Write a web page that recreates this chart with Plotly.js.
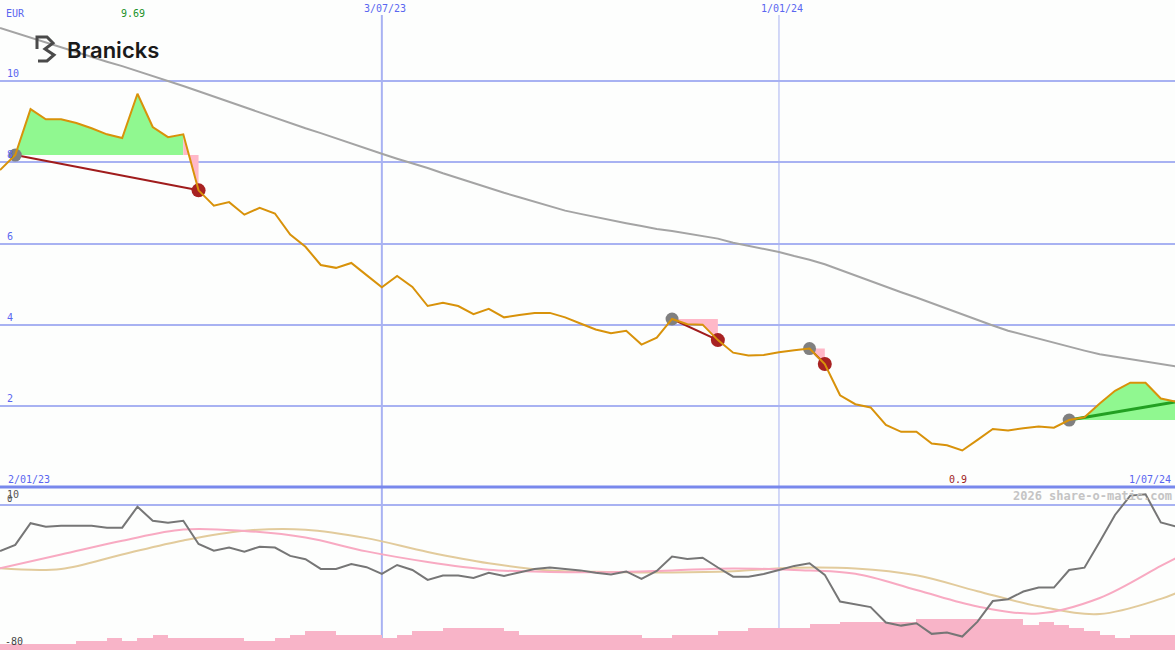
<!DOCTYPE html>
<html>
<head>
<meta charset="utf-8">
<script src="https://cdn.plot.ly/plotly-3.0.1.min.js"></script>
<style>
html,body{margin:0;padding:0;background:#fdfefd;}
#chart{width:1175px;height:650px;}
</style>
</head>
<body>
<div id="chart"></div>
<script>
// ---------- DATA ----------
const weeks = [
 '2023-01-09','2023-01-16','2023-01-23','2023-01-30','2023-02-06','2023-02-13','2023-02-20','2023-02-27',
 '2023-03-06','2023-03-13','2023-03-20','2023-03-27','2023-04-03','2023-04-10','2023-04-17','2023-04-24',
 '2023-05-01','2023-05-08','2023-05-15','2023-05-22','2023-05-29','2023-06-05','2023-06-12','2023-06-19',
 '2023-06-26','2023-07-03','2023-07-10','2023-07-17','2023-07-24','2023-07-31','2023-08-07','2023-08-14',
 '2023-08-21','2023-08-28','2023-09-04','2023-09-11','2023-09-18','2023-09-25','2023-10-02','2023-10-09',
 '2023-10-16','2023-10-23','2023-10-30','2023-11-06','2023-11-13','2023-11-20','2023-11-27','2023-12-04',
 '2023-12-11','2023-12-18','2023-12-25','2024-01-01','2024-01-08','2024-01-15','2024-01-22','2024-01-29',
 '2024-02-05','2024-02-12','2024-02-19','2024-02-26','2024-03-04','2024-03-11','2024-03-18','2024-03-25',
 '2024-04-01','2024-04-08','2024-04-15','2024-04-22','2024-04-29','2024-05-06','2024-05-13','2024-05-20',
 '2024-05-27','2024-06-03','2024-06-10','2024-06-17','2024-06-24','2024-07-01'
];

const price = [
 7.81,8.18,9.31,9.06,9.06,8.97,8.84,8.69,8.60,9.69,8.87,8.62,8.69,7.31,6.93,7.02,
 6.71,6.88,6.74,6.22,5.92,5.47,5.40,5.52,5.22,4.92,5.20,4.93,4.46,4.54,4.46,4.26,
 4.39,4.18,4.24,4.29,4.29,4.18,4.03,3.88,3.79,3.85,3.51,3.68,4.14,4.01,4.00,3.62,
 3.31,3.24,3.25,3.32,3.37,3.41,3.03,2.26,2.04,1.96,1.53,1.36,1.36,1.07,1.03,0.90,
 1.16,1.43,1.39,1.45,1.49,1.46,1.65,1.72,2.06,2.37,2.57,2.57,2.18,2.10
];

const movingAvg = [
 11.31,11.19,11.07,10.95,10.84,10.72,10.60,10.48,10.37,10.25,10.13,10.01,9.88,9.75,9.62,9.49,
 9.36,9.22,9.09,8.97,8.84,8.72,8.59,8.46,8.33,8.21,8.09,7.98,7.86,7.73,7.61,7.48,
 7.36,7.25,7.14,7.03,6.91,6.81,6.73,6.65,6.58,6.50,6.43,6.36,6.31,6.25,6.19,6.12,
 6.02,5.94,5.86,5.79,5.69,5.60,5.49,5.35,5.21,5.07,4.94,4.80,4.67,4.53,4.39,4.25,
 4.12,3.98,3.85,3.75,3.65,3.56,3.46,3.36,3.27,3.21,3.15,3.09,3.03,2.97
];

const oscillator = [
 -25.4,-22.0,-9.9,-11.8,-11.3,-11.3,-11.3,-12.4,-12.4,-0.7,-8.5,-9.6,-8.5,-21.5,-25.2,-23.5,
 -25.8,-23.0,-23.5,-28.1,-30.0,-35.4,-35.4,-32.6,-34.4,-38.2,-33.2,-36.0,-41.5,-39.1,-39.0,-40.4,
 -37.5,-39.3,-37.3,-35.4,-34.6,-35.4,-36.2,-37.5,-38.5,-36.8,-41.0,-36.5,-28.5,-29.8,-29.1,-34.6,
 -39.7,-39.7,-38.2,-36.0,-33.7,-32.2,-38.7,-53.6,-55.2,-56.7,-65.3,-67.0,-65.7,-71.6,-70.9,-73.1,
 -64.8,-53.3,-52.3,-48.0,-45.8,-45.8,-36.0,-34.7,-20.2,-5.3,5.5,6.2,-9.5,-11.7
];

const volume = [
 3.3,3.3,3.3,3.3,3.3,5.0,5.0,6.9,5.0,6.9,8.4,6.9,6.9,6.9,6.9,6.9,
 5.0,5.0,6.9,8.4,10.6,10.6,8.4,8.4,8.4,6.9,8.4,10.6,10.6,12.4,12.4,12.4,
 12.4,10.6,8.4,8.4,8.4,8.4,8.4,8.4,8.4,8.4,6.9,6.9,8.4,8.4,8.4,10.6,
 10.6,12.4,12.4,12.4,12.4,14.3,14.3,15.8,15.8,15.8,15.8,15.8,17.3,17.3,17.3,17.3,
 17.3,17.3,17.3,13.9,15.8,13.9,12.4,10.6,8.4,6.9,8.4,8.4,8.4,8.4
];

const smoothDates = ['2023-01-09','2023-02-06','2023-03-06','2023-04-03','2023-05-01','2023-05-29','2023-06-26',
 '2023-07-24','2023-08-21','2023-09-18','2023-10-16','2023-11-13','2023-12-11','2024-01-08','2024-02-05',
 '2024-03-04','2024-04-01','2024-04-29','2024-05-27','2024-06-24','2024-07-01'];
const pinkSignal = [-35.0,-27.4,-19.7,-13.4,-14.2,-17.9,-25.6,-31.5,-35.8,-37.1,-37.2,-36.2,-35.1,-36.0,-38.1,-47.1,-56.3,-60.2,-51.6,-33.7,-29.3];
const tanSignal  = [-35.0,-35.4,-27.3,-19.5,-14.1,-13.5,-18.2,-25.9,-32.2,-36.2,-37.1,-37.4,-36.7,-34.7,-35.1,-38.9,-47.8,-56.2,-60.5,-52.1,-48.9];

// trades: entry index, exit index (last one still open)
const tradeEntry = [1, 44, 53, 70];
const tradeExit  = [13, 47, 54, 77];
const tradeOpen  = [false, false, false, true];

const gridLevels = [2, 4, 6, 8, 10];
const markerDates = ['2023-07-03', '2024-01-01'];
const markerLabels = ['3/07/23', '1/01/24'];

// ---------- STYLE ----------
const W = 1175, H = 650;
const split = 163 / H;
const BG = '#fdfefd';
const GRID = '#a8b2f2';
const BLUE_TXT = '#5a66f0';
const MONO = 'DejaVu Sans Mono, Liberation Mono, monospace';
const GREEN_FILL = '#90f890';
const PINK_FILL = '#ffb8c8';

const traces = [];

// lower panel: volume bars
const DAY = 86400000;
traces.push({
  type: 'bar', xaxis: 'x', yaxis: 'y2',
  x: weeks.map(d => new Date(new Date(d + 'T00:00:00Z').getTime() + 3.5 * DAY).toISOString()),
  y: volume, base: -80.6, width: 7 * DAY,
  marker: {color: '#f8b4c8', line: {width: 0}}, hoverinfo: 'skip'
});
traces.push({type: 'scatter', mode: 'lines', xaxis: 'x', yaxis: 'y2', x: smoothDates, y: tanSignal,
  line: {color: '#e2cb9c', width: 2, shape: 'spline', smoothing: 1}, hoverinfo: 'skip'});
traces.push({type: 'scatter', mode: 'lines', xaxis: 'x', yaxis: 'y2', x: smoothDates, y: pinkSignal,
  line: {color: '#f8aac2', width: 2, shape: 'spline', smoothing: 1}, hoverinfo: 'skip'});
traces.push({type: 'scatter', mode: 'lines', xaxis: 'x', yaxis: 'y2', x: weeks, y: oscillator,
  line: {color: '#767676', width: 2}, hoverinfo: 'skip'});

// main panel: trade fills
tradeEntry.forEach((e, k) => {
  const level = price[e];
  const x = tradeExit[k];
  let i = e;
  while (i < x) {
    const up = price[i + 1] >= level;
    let j = i;
    while (j < x && (price[j + 1] >= level) === up) j++;
    const xs = [], ys = [];
    for (let m = i; m <= j; m++) { xs.push(weeks[m]); ys.push(price[m]); }
    xs.push(weeks[j], weeks[i]); ys.push(level, level);
    traces.push({type: 'scatter', mode: 'none', x: xs, y: ys, fill: 'toself',
      fillcolor: up ? GREEN_FILL : PINK_FILL, hoverinfo: 'skip'});
    i = j;
  }
});

// moving average
traces.push({type: 'scatter', mode: 'lines', x: weeks, y: movingAvg,
  line: {color: '#a4a4a4', width: 2}, hoverinfo: 'skip'});

// trade lines
tradeEntry.forEach((e, k) => {
  const x = tradeExit[k];
  traces.push({type: 'scatter', mode: 'lines', x: [weeks[e], weeks[x]], y: [price[e], price[x]],
    line: {color: tradeOpen[k] ? '#22a022' : '#a01c1c', width: tradeOpen[k] ? 3 : 2}, hoverinfo: 'skip'});
});
// entry / exit markers
traces.push({type: 'scatter', mode: 'markers', x: tradeEntry.map(i => weeks[i]), y: tradeEntry.map(i => price[i]),
  marker: {color: '#808080', size: 13, line: {width: 0}}, hoverinfo: 'skip'});
const closed = tradeExit.filter((v, k) => !tradeOpen[k]);
traces.push({type: 'scatter', mode: 'markers', x: closed.map(i => weeks[i]), y: closed.map(i => price[i]),
  marker: {color: '#a82222', size: 14, line: {width: 0}}, hoverinfo: 'skip'});

// price line
traces.push({type: 'scatter', mode: 'lines', x: weeks, y: price,
  line: {color: '#d8920a', width: 2}, hoverinfo: 'skip'});

// ---------- ANNOTATIONS ----------
const ann = [];
const txt = (o) => Object.assign({showarrow: false, borderpad: 0}, o);
ann.push(txt({text: 'EUR', xref: 'paper', yref: 'paper', x: 5 / W, y: 1 - 14 / H, xanchor: 'left', yanchor: 'middle',
  font: {family: MONO, size: 10, color: BLUE_TXT}}));
const maxV = Math.max(...price), maxI = price.indexOf(maxV);
ann.push(txt({text: maxV.toFixed(2), xref: 'x', yref: 'paper', x: weeks[maxI], y: 1 - 14 / H, xanchor: 'center', yanchor: 'middle',
  xshift: -4, font: {family: MONO, size: 10, color: '#22922a'}}));
const minV = Math.min(...price), minI = price.indexOf(minV);
ann.push(txt({text: String(minV), xref: 'x', yref: 'paper', x: weeks[minI], y: 1 - 479 / H, xanchor: 'center', yanchor: 'middle',
  xshift: -4, font: {family: MONO, size: 10, color: '#a01c1c'}}));
gridLevels.forEach(v => ann.push(txt({text: String(v), xref: 'paper', yref: 'y', x: 6 / W, y: v, xanchor: 'left', yanchor: 'bottom',
  yshift: 1, font: {family: MONO, size: 10, color: BLUE_TXT}})));
markerDates.forEach((d, k) => ann.push(txt({text: markerLabels[k], xref: 'x', yref: 'paper', x: d, y: 1 - 8 / H,
  xanchor: 'center', yanchor: 'middle', xshift: 3, font: {family: MONO, size: 10, color: BLUE_TXT}})));
ann.push(txt({text: '2/01/23', xref: 'paper', yref: 'paper', x: 7 / W, y: 1 - 479 / H, xanchor: 'left', yanchor: 'middle',
  font: {family: MONO, size: 10, color: BLUE_TXT}}));
ann.push(txt({text: '1/07/24', xref: 'paper', yref: 'paper', x: 1172 / W, y: 1 - 479 / H, xanchor: 'right', yanchor: 'middle',
  font: {family: MONO, size: 10, color: BLUE_TXT}}));
ann.push(txt({text: '10', xref: 'paper', yref: 'paper', x: 6 / W, y: 1 - 494 / H, xanchor: 'left', yanchor: 'middle',
  font: {family: MONO, size: 10, color: '#555555'}}));
ann.push(txt({text: '0', xref: 'paper', yref: 'y2', x: 6 / W, y: 0, xanchor: 'left', yanchor: 'bottom', yshift: 0,
  font: {family: MONO, size: 9, color: '#555555'}}));
ann.push(txt({text: '-80', xref: 'paper', yref: 'y2', x: 4 / W, y: -80, xanchor: 'left', yanchor: 'bottom', yshift: 1,
  font: {family: MONO, size: 10, color: '#444444'}}));
ann.push(txt({text: '<b>2026 share-o-matic.com</b>', xref: 'paper', yref: 'paper', x: 1173 / W, y: 1 - 496 / H,
  xanchor: 'right', yanchor: 'middle', font: {family: MONO, size: 12, color: '#c4c4c4'}}));
ann.push(txt({text: 'Branicks', xref: 'paper', yref: 'paper', x: 66 / W, y: 1 - 50 / H, xanchor: 'left', yanchor: 'middle',
  font: {family: 'Inter, Roboto, sans-serif', size: 22, color: '#1a1a1a', weight: 600}}));

// ---------- SHAPES ----------
const px = x => x / W, py = y => 1 - y / H;
const shapes = [];
markerDates.forEach((d, k) => shapes.push({type: 'line', xref: 'x', yref: 'paper', x0: d, x1: d, y0: 0, y1: py(15),
  line: {color: GRID, width: k === 0 ? 2 : 1}, layer: 'below'}));
shapes.push({type: 'line', xref: 'paper', yref: 'paper', x0: 0, x1: 1, y0: split, y1: split,
  line: {color: '#7888ec', width: 3}, layer: 'below'});
const logo = [[37,49],[37,37],[47,37],[53,43],[45,49],[54,55],[47,61],[38,61]];
shapes.push({type: 'path', xref: 'paper', yref: 'paper',
  path: 'M' + logo.map(p => px(p[0]) + ',' + py(p[1])).join(' L'),
  line: {color: '#4a4a4a', width: 3}});

const layout = {
  width: W, height: H,
  margin: {l: 0, r: 0, t: 0, b: 0, pad: 0},
  paper_bgcolor: BG, plot_bgcolor: BG,
  showlegend: false, hovermode: false, bargap: 0,
  xaxis: {type: 'date', range: ['2023-01-09', '2024-06-30 12:00'], showgrid: false, zeroline: false,
    showticklabels: false, ticks: '', showline: false, anchor: 'y2', fixedrange: true},
  yaxis: {domain: [split, 1], range: [0, 12], tickvals: gridLevels, showgrid: true, gridcolor: GRID, gridwidth: 2,
    showticklabels: false, zeroline: false, showline: false, ticks: '', fixedrange: true},
  yaxis2: {domain: [0, split], range: [-80.6, 10.3], tickvals: [0], showgrid: true, gridcolor: GRID, gridwidth: 2,
    showticklabels: false, zeroline: false, showline: false, ticks: '', fixedrange: true},
  annotations: ann,
  shapes: shapes
};

Plotly.newPlot('chart', traces, layout, {displayModeBar: false, staticPlot: true});
</script>
</body>
</html>
